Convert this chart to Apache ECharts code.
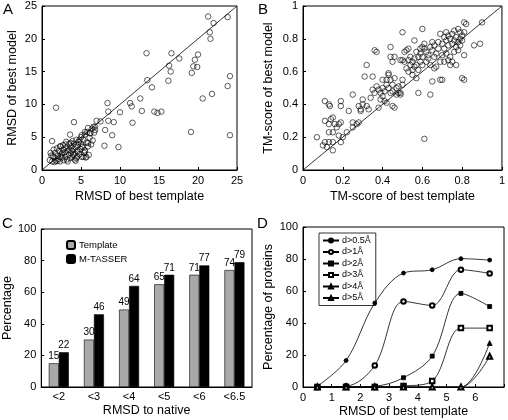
<!DOCTYPE html>
<html><head><meta charset="utf-8">
<script src="https://cdn.jsdelivr.net/npm/echarts@6/dist/echarts.min.js"></script>
<style>html,body{margin:0;padding:0;background:#fff}#c{width:508px;height:420px}</style>
</head><body><div id="c"></div>
<script>
// Panel A: RMSD of best template vs RMSD of best model
const rmsdPairsA = [
[1.8,9.5],[1.3,4.4],[4.1,7.3],[3.6,5.4],[8.4,10.2],[8.5,8.9],[8.5,7.5],[9.2,7.3],[7.0,7.5],[7.5,7.4],[8.1,6.1],[9.0,5.3],[8.0,3.7],[9.8,3.5],[10.0,8.8],[11.3,10.2],[11.5,9.7],[11.6,7.2],[12.6,10.9],[12.8,9.0],[13.4,17.8],[13.5,13.7],[14.1,12.6],[14.4,8.9],[14.8,8.7],[15.3,8.9],[16.2,13.6],[16.3,15.9],[16.5,15.0],[16.6,17.8],[17.6,17.0],[19.2,14.8],[19.4,15.8],[19.6,16.8],[19.9,15.7],[20.0,17.6],[19.1,5.8],[20.6,10.9],[21.3,23.4],[21.5,21.0],[21.6,20.0],[21.8,11.6],[22.0,22.4],[23.8,23.3],[23.8,12.8],[24.1,14.3],[24.1,5.3],
[1.0,1.5],[1.1,2.6],[1.3,1.3],[1.4,2.1],[1.5,3.1],[1.6,1.9],[1.7,2.6],[1.8,1.4],[1.9,3.3],[2.0,2.2],[2.1,1.7],[2.2,2.9],[2.3,1.3],[2.4,3.6],[2.5,2.4],[2.6,1.9],[2.7,3.1],[2.8,1.5],[2.9,2.7],[3.0,3.9],[3.0,2.0],[3.1,3.4],[3.2,1.6],[3.3,2.9],[3.4,2.3],[3.5,4.0],[3.5,3.1],[3.6,1.8],[3.7,2.6],[3.8,3.6],[3.9,4.4],[3.9,2.0],[4.0,3.1],[4.1,4.0],[4.2,2.5],[4.2,1.6],[4.3,3.5],[4.4,4.6],[4.5,2.9],[4.5,2.0],[4.6,3.8],[4.7,4.3],[4.8,2.4],[4.9,3.2],[5.0,5.0],[5.0,4.0],[5.1,2.0],[5.2,3.5],[5.3,4.6],[5.4,2.6],[5.5,5.4],[5.5,3.0],[5.6,1.9],[5.7,4.2],[5.8,5.8],[5.9,3.6],[6.0,2.3],[6.1,4.9],[6.2,5.6],[6.3,3.9],[6.4,6.3],[6.5,4.5],[6.7,5.7],[6.8,6.6],[2.3,3.6],[2.7,3.8],[3.1,4.3],[4.4,1.8],[4.6,2.8],[5.1,3.6],[5.3,2.0],[5.7,2.0],[5.5,2.8],[5.9,4.1],[6.6,6.6],[6.8,6.1],[4.8,4.6],[5.1,5.3],[5.5,5.8],[5.9,6.4],[6.1,5.6],[1.2,2.2],[1.6,1.2],[2.0,1.4],[2.6,2.6],[3.3,1.3],[3.7,4.1],[4.0,2.3],[4.3,1.4],[2.4,2.0],[3.8,2.9]
];
// Panel B: TM-score of best template vs TM-score of best model
const tmPairsB = [
[0.07,0.20],[0.11,0.42],[0.13,0.40],[0.135,0.39],[0.11,0.30],[0.13,0.28],[0.14,0.31],[0.15,0.32],[0.16,0.28],[0.18,0.28],[0.19,0.29],[0.13,0.23],[0.15,0.23],[0.17,0.26],[0.18,0.21],[0.11,0.17],[0.13,0.17],[0.15,0.17],[0.10,0.15],[0.12,0.14],[0.15,0.12],[0.19,0.42],[0.19,0.39],[0.23,0.36],[0.25,0.46],[0.19,0.17],[0.20,0.20],[0.22,0.23],[0.25,0.26],[0.25,0.29],[0.27,0.28],[0.28,0.29],
[0.28,0.39],[0.29,0.36],[0.29,0.37],[0.30,0.40],[0.30,0.43],[0.31,0.57],[0.32,0.64],[0.32,0.39],[0.33,0.37],[0.34,0.44],[0.35,0.57],[0.35,0.49],[0.36,0.73],[0.37,0.72],[0.36,0.47],[0.37,0.51],[0.38,0.38],[0.38,0.49],[0.39,0.47],[0.39,0.43],[0.40,0.50],[0.40,0.45],[0.40,0.55],
[0.41,0.42],[0.41,0.48],[0.42,0.41],[0.42,0.52],[0.42,0.55],[0.43,0.58],[0.43,0.59],[0.43,0.50],[0.44,0.55],[0.44,0.47],[0.44,0.69],[0.44,0.75],[0.45,0.52],[0.45,0.48],[0.45,0.39],[0.46,0.38],[0.45,0.66],[0.46,0.69],[0.46,0.56],[0.47,0.50],[0.47,0.46],[0.48,0.51],[0.48,0.47],[0.49,0.47],[0.49,0.67],[0.50,0.55],[0.50,0.52],[0.50,0.84],[0.50,0.67],[0.49,0.46],
[0.51,0.66],[0.51,0.72],[0.52,0.62],[0.52,0.73],[0.53,0.67],[0.53,0.60],[0.53,0.74],[0.54,0.64],[0.54,0.69],[0.55,0.61],[0.55,0.58],[0.55,0.66],[0.56,0.63],[0.56,0.68],[0.56,0.79],[0.57,0.72],[0.57,0.64],[0.57,0.56],[0.58,0.47],[0.58,0.69],[0.58,0.61],[0.59,0.66],[0.59,0.74],[0.59,0.71],[0.60,0.86],[0.60,0.69],[0.60,0.64],[0.61,0.19],[0.61,0.77],[0.61,0.74],[0.60,0.75],
[0.62,0.72],[0.62,0.66],[0.63,0.70],[0.63,0.68],[0.64,0.46],[0.64,0.75],[0.64,0.64],[0.65,0.54],[0.65,0.78],[0.65,0.73],[0.66,0.62],[0.66,0.69],[0.66,0.76],[0.67,0.71],[0.67,0.63],[0.68,0.78],[0.68,0.74],[0.69,0.83],[0.69,0.66],[0.69,0.55],[0.70,0.70],[0.70,0.77],[0.70,0.55],[0.71,0.81],[0.71,0.74],[0.71,0.66],
[0.72,0.84],[0.72,0.79],[0.72,0.71],[0.73,0.67],[0.73,0.76],[0.73,0.82],[0.74,0.64],[0.74,0.80],[0.74,0.69],[0.75,0.83],[0.75,0.66],[0.75,0.77],[0.76,0.72],[0.76,0.79],[0.76,0.85],[0.77,0.64],[0.77,0.75],[0.77,0.81],[0.78,0.86],[0.78,0.78],[0.78,0.73],[0.79,0.84],[0.79,0.80],[0.79,0.76],[0.80,0.82],[0.80,0.56],[0.80,0.79],
[0.81,0.55],[0.81,0.70],[0.81,0.84],[0.81,0.90],[0.82,0.89],[0.86,0.76],[0.89,0.77],[0.90,0.90]
];
// Panel C
const rmsdCategories = ['<2','<3','<4','<5','<6','<6.5'];
const templatePct = [15,30,49,65,71,74];
const mtasserPct = [22,46,64,71,77,79];
// Panel D
const templateRmsdBins = [0.5,1.5,2.5,3.5,4.5,5.5,6.5];
const dNames = ['d>0.5Å','d>1Å','d>2Å','d>3Å','d>4Å','d>5Å'];
const d05 = [0.5,16.5,52.5,71.2,73.3,80.2,79.3];
const d1  = [0,0.5,13.5,53.5,51,73.3,71];
const d2  = [0,0,0.5,5.8,19.3,58.5,50.3];
const d3  = [0,0,0,0.6,3.8,36.8,36.8];
const d4  = [0,0,0,0,0,0,27.5];
const d5  = [0,0,0,0,0,0,19.2];
const dSymbols = ['circle','emptyCircle','rect','emptyRect','triangle','emptyTriangle'];

const FONT = 'Liberation Sans';
const black = '#000';
function valAxis(gi, min, max, interval, name, gap, fmt){
  return {
    type:'value', gridIndex:gi, min:min, max:max, interval:interval,
    name:name, nameLocation:'middle', nameGap:gap,
    nameTextStyle:{fontFamily:FONT,fontSize:12.5,color:black},
    axisLine:{show:true,lineStyle:{color:black,width:1}},
    axisTick:{show:true,inside:true,length:3,lineStyle:{color:black}},
    axisLabel:{fontFamily:FONT,fontSize:11,color:black,margin:5,formatter:fmt},
    splitLine:{show:false}
  };
}
const tmFmt = v => v===0?'0':(v===1?'1':v.toFixed(1));
const gridBox = {show:true,borderColor:black,borderWidth:1,backgroundColor:'rgba(0,0,0,0)',containLabel:false};

const chart = echarts.init(document.getElementById('c'),null,{renderer:'canvas'});
const xyD = arr => templateRmsdBins.map((x,i)=>[x,arr[i]]);
const dSizes = [4,4.5,4,4.5,5,5];
const dSeries = [d05,d1,d2,d3,d4,d5].map((arr,i)=>({
  name:dNames[i], type:'line', xAxisIndex:3, yAxisIndex:3,
  data:xyD(arr), smooth:0.35, symbol:dSymbols[i], symbolSize:dSizes[i],
  lineStyle:{color:black,width:0.8}, itemStyle:{color:black,borderColor:black,borderWidth:0.8},
  emphasis:{disabled:true}, animation:false
}));

chart.setOption({
  animation:false,
  textStyle:{fontFamily:FONT},
  grid:[
    Object.assign({left:42,top:6,width:195,height:164},gridBox),
    Object.assign({left:303,top:6,width:201,height:164},gridBox),
    Object.assign({left:41,top:229,width:211,height:158},gridBox),
    Object.assign({left:303,top:227,width:201,height:160},gridBox)
  ],
  xAxis:[
    valAxis(0,0,25,5,'RMSD of best template',20),
    valAxis(1,0,1,0.2,'TM-score of best template',20,tmFmt),
    {type:'category',gridIndex:2,data:rmsdCategories,name:'RMSD to native',nameLocation:'middle',nameGap:17,
     nameTextStyle:{fontFamily:FONT,fontSize:12.5,color:black},
     axisLine:{lineStyle:{color:black}},axisTick:{inside:true,length:3,alignWithLabel:false,lineStyle:{color:black}},
     axisLabel:{fontFamily:FONT,fontSize:11,color:black,margin:4}},
    valAxis(3,0,7,1,'RMSD of best template',18,v=>v===7?'':String(v))
  ],
  yAxis:[
    valAxis(0,0,25,5,'RMSD of best model',23),
    valAxis(1,0,1,0.2,'TM-score of best model',28,tmFmt),
    valAxis(2,0,100,20,'Percentage',24),
    valAxis(3,0,100,20,'Percentage of proteins',28)
  ],
  legend:[
    {data:['Template','M-TASSER'],orient:'vertical',left:61,top:235,itemWidth:8,itemHeight:8,itemGap:4,
     textStyle:{fontFamily:FONT,fontSize:9.5,color:black,padding:[0,0,0,-1]},selectedMode:false},
    {data:dNames,orient:'vertical',left:319,top:233,itemWidth:16,itemHeight:5,itemGap:2.5,
     borderColor:black,borderWidth:0.8,padding:[3,5,3,3],
     textStyle:{fontFamily:FONT,fontSize:9,color:black,padding:[0,0,0,-2]},selectedMode:false}
  ],
  graphic:[
    {type:'text',left:3,top:2,style:{text:'A',font:'15px "Liberation Sans"',fill:black}},
    {type:'text',left:258,top:2,style:{text:'B',font:'15px "Liberation Sans"',fill:black}},
    {type:'text',left:2,top:216,style:{text:'C',font:'15px "Liberation Sans"',fill:black}},
    {type:'text',left:257,top:216,style:{text:'D',font:'15px "Liberation Sans"',fill:black}}
  ],
  series:[
    {type:'line',xAxisIndex:0,yAxisIndex:0,data:[[0,0],[25,25]],symbol:'none',lineStyle:{color:black,width:0.8},silent:true},
    {type:'scatter',xAxisIndex:0,yAxisIndex:0,data:rmsdPairsA,symbol:'circle',symbolSize:5.5,
     itemStyle:{color:'rgba(0,0,0,0)',borderColor:black,borderWidth:0.8}},
    {type:'line',xAxisIndex:1,yAxisIndex:1,data:[[0,0],[1,1]],symbol:'none',lineStyle:{color:black,width:0.8},silent:true},
    {type:'scatter',xAxisIndex:1,yAxisIndex:1,data:tmPairsB,symbol:'circle',symbolSize:5.5,
     itemStyle:{color:'rgba(0,0,0,0)',borderColor:black,borderWidth:0.8}},
    {name:'Template',type:'bar',xAxisIndex:2,yAxisIndex:2,data:templatePct,barWidth:10,barGap:'0%',
     itemStyle:{color:'#a9a9a9',borderColor:black,borderWidth:0.6},
     label:{show:true,position:'top',distance:2,fontFamily:FONT,fontSize:10,color:black}},
    {name:'M-TASSER',type:'bar',xAxisIndex:2,yAxisIndex:2,data:mtasserPct,barWidth:10,barGap:'0%',
     itemStyle:{color:black,borderColor:black,borderWidth:0.6},
     label:{show:true,position:'top',distance:2,fontFamily:FONT,fontSize:10,color:black}}
  ].concat(dSeries)
});
</script></body></html>
